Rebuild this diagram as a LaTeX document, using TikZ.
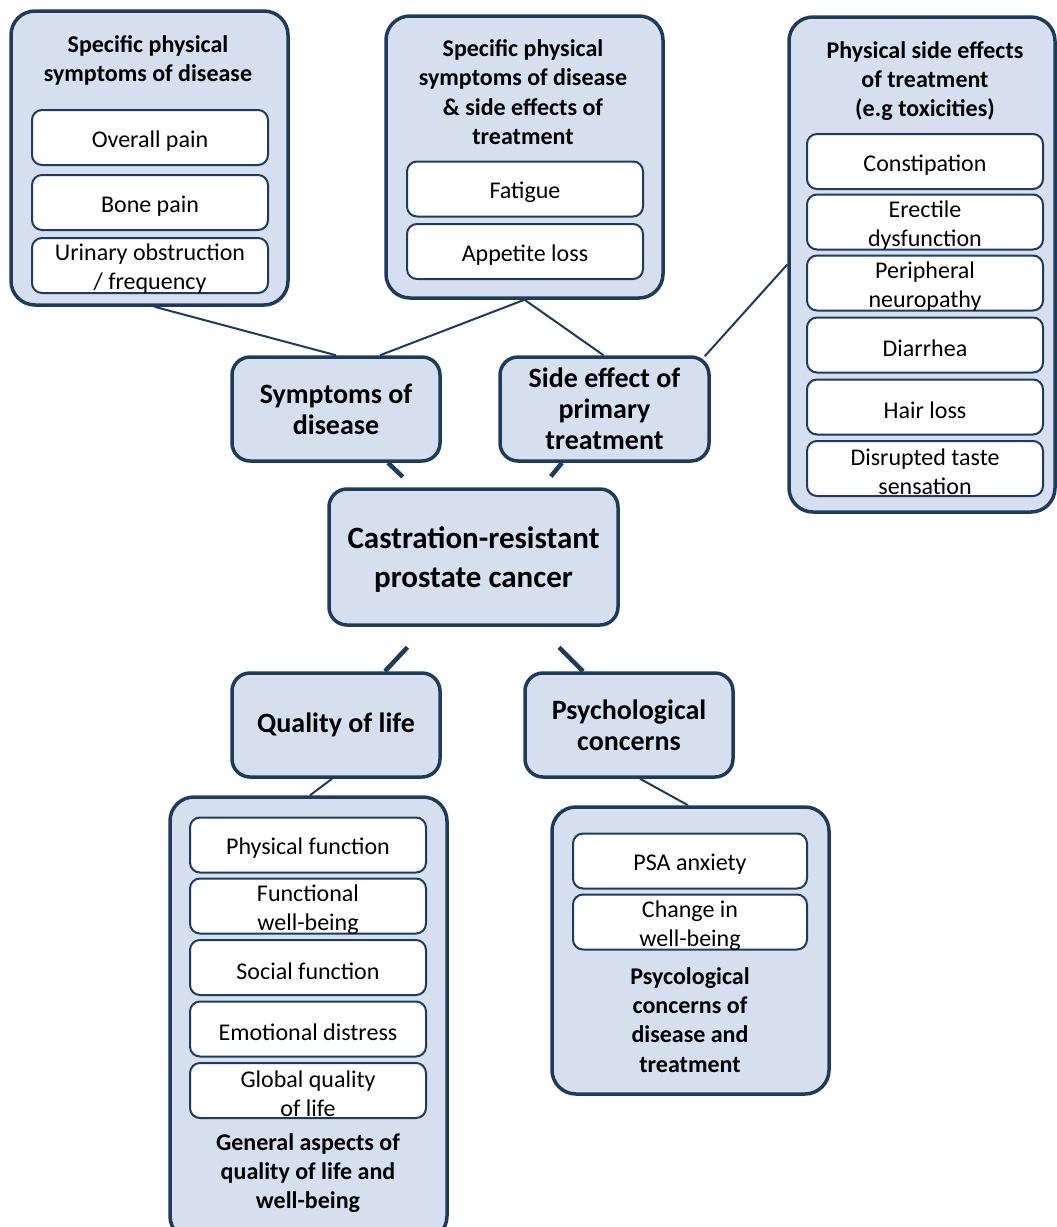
\documentclass[tikz,border=0pt]{standalone}
\usepackage{fontspec}
\setmainfont{Carlito}
\definecolor{navy}{HTML}{1F3B5C}
\definecolor{lightblue}{HTML}{D6DFEF}
\begin{document}
\begin{tikzpicture}[x=1pt,y=-1pt,
  outerbox/.style={draw=navy, fill=lightblue, line width=3.5pt, rounded corners=24pt, inner sep=0pt},
  itembox/.style={draw=navy, fill=white, line width=2pt, rounded corners=10pt, minimum width=236pt, minimum height=55pt, inner sep=0pt},
  itemtext/.style={align=center, inner sep=0pt, yshift=-3.5pt, font=\fontsize{24}{29}\selectfont},
  midbox/.style={draw=navy, fill=lightblue, line width=3.5pt, rounded corners=18pt, inner sep=0pt, align=center, minimum width=208pt, minimum height=104pt, font=\bfseries\fontsize{28}{31}\selectfont},
  titletext/.style={align=center, inner sep=0pt, font=\bfseries\fontsize{24}{29}\selectfont},
  conn/.style={draw=navy, line width=2pt},
  stub/.style={draw=navy, line width=4.5pt}]
\useasboundingbox (0,0) rectangle (1057,1227);
\clip (0,0) rectangle (1057,1227);
\fill[white] (0,0) rectangle (1057,1227);

% top-left group
\node[outerbox, minimum width=277pt, minimum height=294pt] (tl) at (149.5,158) {};
\node[titletext] (tlt) at (148,60) {Specific physical\\symptoms of disease};
\node[itembox, label={[itemtext]center:{Overall pain}}] (op) at (150,137.5) {};
\node[itembox, label={[itemtext]center:{Bone pain}}] (bp) at (150,202.5) {};
\node[itembox, label={[itemtext]center:{Urinary obstruction\\/ frequency}}] (uo) at (150,265.5) {};

% top-middle group
\node[outerbox, minimum width=277pt, minimum height=282pt] (tm) at (524.5,157) {};
\node[titletext, font=\bfseries\fontsize{24}{29.3}\selectfont] (tmt) at (523,92) {Specific physical\\symptoms of disease\\\& side effects of\\treatment};
\node[itembox, label={[itemtext]center:{Fatigue}}] (fa) at (525,189) {};
\node[itembox, label={[itemtext]center:{Appetite loss}}] (al) at (525,251.5) {};

% top-right group
\node[outerbox, minimum width=266pt, minimum height=495pt] (tr) at (922,264.5) {};
\node[titletext] (trt) at (925,81) {Physical side effects\\of treatment\\(e.g toxicities)};
\node[itembox, label={[itemtext]center:{Constipation}}] (co) at (925,161.5) {};
\node[itembox, label={[itemtext]center:{Erectile\\dysfunction}}] (ed) at (925,222) {};
\node[itembox, label={[itemtext]center:{Peripheral\\neuropathy}}] (pn) at (925,283) {};
\node[itembox, label={[itemtext]center:{Diarrhea}}] (di) at (925,345) {};
\node[itembox, label={[itemtext]center:{Hair loss}}] (hl) at (925,407) {};
\node[itembox, label={[itemtext]center:{Disrupted taste\\sensation}}] (dt) at (925,468.5) {};

% middle boxes
\node[midbox] (sd) at (336,409) {Symptoms of\\disease};
\node[midbox, minimum width=209pt] (se) at (604.5,409) {Side effect of\\primary\\treatment};
\node[midbox, minimum width=289pt, minimum height=136pt, font=\bfseries\fontsize{31}{39}\selectfont, text depth=0pt] (crpc) at (473.5,557) {Castration-resistant\\prostate cancer};
\node[midbox] (qol) at (336,725) {Quality of life};
\node[midbox] (psy) at (629,725) {Psychological\\concerns};

% bottom-left group
\node[outerbox, minimum width=277pt, minimum height=443pt] (bl) at (308.5,1018.5) {};
\node[itembox, label={[itemtext]center:{Physical function}}] (pf) at (308,845) {};
\node[itembox, label={[itemtext]center:{Functional\\well-being}}] (fw) at (308,906) {};
\node[itembox, label={[itemtext]center:{Social function}}] (sf) at (308,967.5) {};
\node[itembox, label={[itemtext]center:{Emotional distress}}] (emo) at (308,1029) {};
\node[itembox, label={[itemtext]center:{Global quality\\of life}}] (gq) at (308,1090.5) {};
\node[titletext] (blt) at (308,1173) {General aspects of\\quality of life and\\well-being};

% bottom-right group
\node[outerbox, minimum width=277pt, minimum height=287pt] (br) at (690.5,950.5) {};
\node[itembox, minimum width=234pt, label={[itemtext]center:{PSA anxiety}}] (psa) at (690,861) {};
\node[itembox, minimum width=234pt, label={[itemtext]center:{Change in\\well-being}}] (chg) at (690,922) {};
\node[titletext, font=\bfseries\fontsize{24}{29.3}\selectfont] (brt) at (690,1020) {Psycological\\concerns of\\disease and\\treatment};

% connectors
\draw[conn] ([xshift=5pt]tl.south) -- (sd.north);
\draw[conn] (tm.south) -- ([xshift=44pt]sd.north);
\draw[conn] (tm.south) -- ([xshift=-1pt]se.north);
\draw[conn] (tr.west) -- ([xshift=-6pt,yshift=-1pt]se.north east);
\draw[stub, shorten >=15pt] ([xshift=52pt]sd.south) -- ([xshift=-60pt]crpc.north);
\draw[stub, shorten >=14pt] ([xshift=-42.5pt]se.south) -- ([xshift=68.5pt]crpc.north);
\draw[stub, shorten <=28pt] ([xshift=-47pt]crpc.south) -- ([xshift=49pt]qol.north);
\draw[stub, shorten <=29pt] ([xshift=65pt]crpc.south) -- ([xshift=-46pt]psy.north);
\draw[conn] ([xshift=-4pt]qol.south) -- ([xshift=1.5pt]bl.north);
\draw[conn] ([xshift=11pt]psy.south) -- ([xshift=-2.5pt]br.north);
\end{tikzpicture}
\end{document}
